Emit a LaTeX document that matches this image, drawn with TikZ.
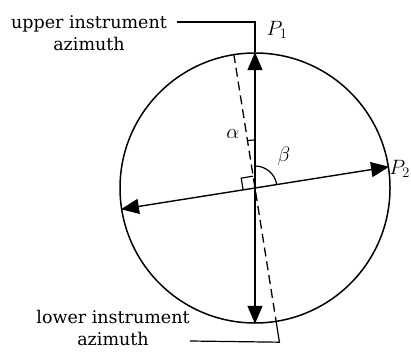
\documentclass[tikz,border=0pt]{standalone}
\usepackage{amsmath}
\usepackage{fontspec}
\newfontfamily\labelfont{DejaVu Serif}
\usetikzlibrary{arrows.meta, calc}

\begin{document}
\begin{tikzpicture}[
    x=1pt, y=1pt,
    lbl/.style={align=center, font=\labelfont\fontsize{17.5}{22}\selectfont, inner sep=0pt},
    sym/.style={font=\fontsize{22}{26}\selectfont, inner sep=0pt},
    axis/.style={{Triangle[length=18pt, width=15pt]}-{Triangle[length=18pt, width=15pt]}, line width=1.4pt},
    guide/.style={dash pattern=on 9pt off 5pt, line width=1.3pt},
    lead/.style={line width=1.2pt}
]
\useasboundingbox (0,0) rectangle (411,-352);
\coordinate (c) at (255,-188);
\node[draw, circle, line width=1.5pt, minimum size=270pt, inner sep=0pt] (ring) at (c) {};
\draw[axis] (ring.270) -- (ring.90);
\draw[axis] (ring.189.5) -- (ring.9.5);
\draw[guide] (ring.99.5) -- (ring.279.5);
% angle marks
\draw[lead] ($(c)+(90:48)$) arc[start angle=90, end angle=99.5, radius=48];
\draw[lead] ($(c)+(9.5:22)$) arc[start angle=9.5, end angle=90, radius=22];
\draw[lead] ($(c)+(99.5:12)$) -- ++(189.5:12) -- ++(279.5:12);
\node[sym] (alab) at (233,-134) {$\alpha$};
\node[sym] (blab) at (284,-156) {$\beta$};
\node[sym] (pone) at (277,-30) {$P_1$};
\node[sym, anchor=west] (ptwo) at ([xshift=0pt, yshift=-2pt]ring.9.5) {$P_2$};
% instrument labels
\node[lbl] (uplabel) at (89,-33) {upper instrument\\azimuth};
\node[lbl] (lowlabel) at (113,-328) {lower instrument\\azimuth};
\coordinate (uptick) at (177,-22);
\coordinate (lowtick) at (190,-341);
\coordinate (lowbend) at ($(c)!1.15!(ring.279.5)$);
\draw[lead] (uptick) -| (ring.90);
\draw[lead] (lowtick) -- (lowbend) -- (ring.279.5);
\end{tikzpicture}
\end{document}
